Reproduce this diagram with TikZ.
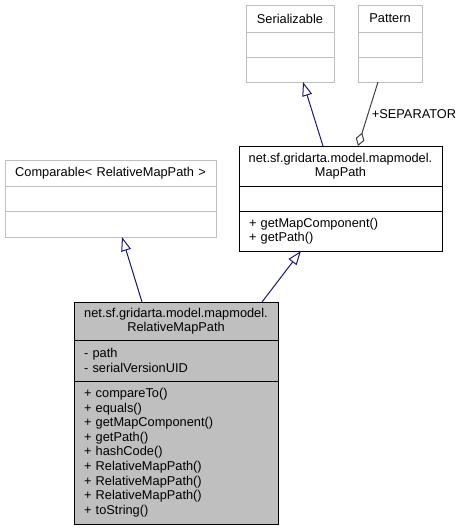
\documentclass[tikz,border=0pt]{standalone}
\usepackage{fontspec}
\setmainfont{Liberation Sans}
\usetikzlibrary{positioning,arrows.meta}

\definecolor{edgeblue}{HTML}{191970}
\definecolor{grey75}{HTML}{BFBFBF}
\definecolor{grey25}{HTML}{404040}

\begin{document}
\begin{tikzpicture}[x=1pt, y=-1pt,
    classbox/.style={draw, rectangle, inner ysep=2pt, outer sep=0pt, line width=1pt,
        font=\fontsize{12.8}{14.6}\selectfont},
    clsname/.style={classbox, text width=#1, inner xsep=0pt, align=center},
    clsmembers/.style={classbox, text width=#1, inner xsep=10pt, align=left},
    external/.style={draw=grey75},
    current/.style={draw=black, fill=grey75},
    inherit/.style={draw=edgeblue, line width=1pt, -{Triangle[length=14pt, width=10pt, fill=white]}},
    aggreg/.style={draw=grey25, line width=1pt, {Diamond[length=14pt, width=9pt, fill=white]}-}]
    \useasboundingbox (0,0) rectangle (467,531);

    % Serializable box
    \node[clsname=88pt, external, minimum height=27pt] (serT) at (290,18.5) {Serializable};
    \node[clsmembers=68pt, external, minimum height=25pt, below=0pt of serT] (serA) {};
    \node[clsmembers=68pt, external, minimum height=25pt, below=0pt of serA] (serM) {};

    % Pattern box
    \node[clsname=64pt, external, minimum height=27pt] (patT) at (390,18.5) {Pattern};
    \node[clsmembers=44pt, external, minimum height=25pt, below=0pt of patT] (patA) {};
    \node[clsmembers=44pt, external, minimum height=25pt, below=0pt of patA] (patM) {};

    % Comparable box
    \node[clsname=211pt, external, minimum height=26pt] (cmpT) at (110.5,173) {Comparable< RelativeMapPath >};
    \node[clsmembers=191pt, external, minimum height=25pt, below=0pt of cmpT] (cmpA) {};
    \node[clsmembers=191pt, external, minimum height=26pt, below=0pt of cmpA] (cmpM) {};

    % MapPath box
    \node[clsname=203pt, minimum height=40pt] (mapT) at (340.5,166) {net.sf.gridarta.model.mapmodel.\\MapPath};
    \node[clsmembers=183pt, minimum height=25pt, below=0pt of mapT] (mapA) {};
    \node[clsmembers=183pt, minimum height=40pt, below=0pt of mapA] (mapM) {+ getMapComponent()\\+ getPath()};

    % RelativeMapPath box
    \node[clsname=204pt, current, minimum height=38pt] (relT) at (176,321) {net.sf.gridarta.model.mapmodel.\\RelativeMapPath};
    \node[clsmembers=184pt, current, minimum height=41pt, below=0pt of relT] (relA) {- path\\- serialVersionUID};
    \node[clsmembers=184pt, current, minimum height=143pt, below=0pt of relA] (relM) {+ compareTo()\\+ equals()\\+ getMapComponent()\\+ getPath()\\+ hashCode()\\+ RelativeMapPath()\\+ RelativeMapPath()\\+ RelativeMapPath()\\+ toString()};

    % MapPath implements Serializable
    \draw[inherit] ([xshift=-17.5pt]mapT.north) -- ([xshift=13pt]serM.south);

    % MapPath holds a Pattern
    \draw[aggreg] ([xshift=17.5pt]mapT.north) -- node[right, pos=.5, text=black, font=\fontsize{12.8}{14.6}\selectfont] {+SEPARATOR} ([xshift=-12pt]patM.south);

    % RelativeMapPath implements Comparable and MapPath
    \draw[inherit] ([xshift=-34pt]relT.north) -- ([xshift=11.5pt]cmpM.south);
    \draw[inherit] ([xshift=86pt]relT.north) -- ([xshift=-39.5pt]mapM.south);
\end{tikzpicture}
\end{document}
